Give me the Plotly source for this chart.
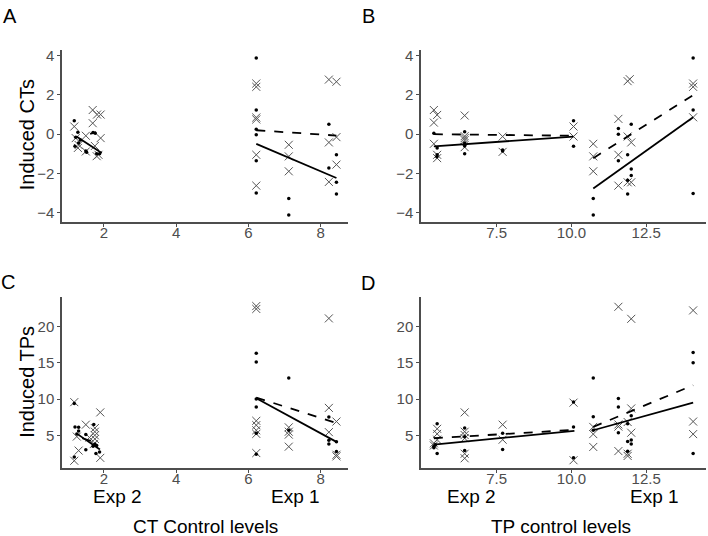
import plotly.graph_objects as go

# ---- panel A : induced CTs vs CT control levels ----
a_dot_x = [1.18, 1.2, 1.28, 1.3, 1.22, 1.5, 1.52, 1.7, 1.76, 1.8, 1.88, 1.35,
           6.22, 6.22, 6.22, 6.22, 6.22, 6.22, 7.12, 7.12, 8.23, 8.23, 8.44, 8.44, 8.44]
a_dot_y = [0.69, -0.62, 0.1, -0.45, -0.15, -0.85, -0.92, 0.08, 0.05, -1.0, -1.0, -0.3,
           3.88, 1.23, 0.25, -0.03, -1.35, -2.99, -3.27, -4.12, 0.5, -1.72, -1.05, -2.45, -3.04]
a_cross_x = [1.18, 1.22, 1.28, 1.3, 1.5, 1.5, 1.69, 1.69, 1.81, 1.91, 1.91, 1.8, 1.75, 1.85,
             6.22, 6.22, 6.22, 6.22, 6.22, 6.22, 7.12, 7.12, 7.12, 8.23, 8.23, 8.23, 8.44, 8.44, 8.44]
a_cross_y = [0.39, -0.2, -0.7, -0.55, -0.88, -0.08, 1.23, 0.56, 1.0, 1.0, -0.2, -1.12, -0.6, -1.05,
             2.58, 2.41, 0.85, 0.75, -1.05, -2.62, -0.54, -1.13, -1.89, 2.78, -0.42, -2.43, 2.67, -0.15, -1.55]
a_fits = [
    ([1.24, 1.94], [-0.12, -0.96], "solid"),
    ([1.62, 1.78], [0.02, 0.1], "dash"),
    ([6.22, 8.44], [-0.49, -2.23], "solid"),
    ([6.22, 8.44], [0.2, -0.07], "dash"),
]

# ---- panel B : induced CTs vs TP control levels ----
b_dot_x = [5.4, 5.51, 5.51, 5.5, 6.43, 6.43, 6.43, 6.43, 7.7, 7.7, 10.07, 10.07,
           10.73, 10.73, 11.57, 11.57, 11.57, 11.88, 11.88, 11.88, 12.0, 12.0, 12.0, 14.07, 14.07, 14.07]
b_dot_y = [0.05, -1.05, -0.7, -1.15, 0.13, -1.0, -0.45, -0.6, -0.8, -0.85, 0.69, -0.62,
           -3.27, -4.12, 0.29, 0.0, -1.35, -1.05, -2.35, -3.04, 0.5, -1.77, -2.11, 3.88, 1.23, -3.02]
b_cross_x = [5.4, 5.4, 5.4, 5.51, 5.51, 5.51, 6.43, 6.43, 6.43, 6.43, 6.43, 7.7, 7.7, 10.07, 10.07,
             10.73, 10.73, 10.73, 11.57, 11.57, 11.57, 11.88, 11.95, 11.88, 11.88, 12.0, 12.0, 14.07, 14.07, 14.07]
b_cross_y = [1.23, 0.59, -0.49, 0.98, -1.05, -1.22, 0.95, -0.1, -0.2, -0.3, -0.66, -0.12, -0.9, 0.39, -0.12,
             -0.49, -1.13, -1.89, 0.78, -1.05, -2.62, 2.7, 2.8, -0.12, -2.45, -0.42, -2.45, 2.58, 2.41, 0.86]
b_fits = [
    ([5.4, 10.07], [-0.62, -0.12], "solid"),
    ([5.4, 10.07], [0.0, -0.08], "dash"),
    ([10.73, 14.07], [-2.77, 0.86], "solid"),
    ([10.73, 14.07], [-1.22, 1.99], "dash"),
]

# ---- panel C : induced TPs vs CT control levels ----
c_dot_x = [1.18, 1.2, 1.3, 1.25, 1.18, 1.5, 1.5, 1.72, 1.75, 1.7, 1.8, 1.88, 1.78, 1.3,
           6.22, 6.22, 6.22, 6.22, 6.22, 6.22, 7.12, 7.12, 8.23, 8.23, 8.23, 8.44, 8.44]
c_dot_y = [9.4, 6.16, 6.1, 5.2, 2.02, 5.1, 3.0, 6.5, 3.8, 3.5, 3.6, 2.7, 2.5, 5.6,
           16.3, 15.1, 10.0, 8.9, 5.3, 2.4, 12.9, 5.7, 7.53, 4.33, 3.8, 4.1, 2.78]
c_cross_x = [1.18, 1.25, 1.3, 1.18, 1.5, 1.9, 1.75, 1.75, 1.75, 1.75, 1.72, 1.9, 1.6,
             6.22, 6.22, 6.22, 6.22, 6.22, 6.22, 6.22, 7.12, 7.12, 7.12, 7.12, 8.23, 8.23, 8.23, 8.44, 8.44, 8.44]
c_cross_y = [9.57, 4.83, 2.9, 1.5, 6.47, 8.16, 6.0, 5.5, 5.0, 4.5, 3.8, 1.9, 4.7,
             22.8, 22.4, 7.0, 6.4, 5.7, 5.2, 2.56, 6.1, 5.5, 5.1, 3.44, 21.1, 8.78, 5.44, 6.9, 2.33, 2.1]
c_fits = [
    ([1.24, 1.89], [5.27, 3.05], "solid"),
    ([1.4, 1.8], [4.6, 4.0], "dash"),
    ([6.22, 8.44], [10.1, 4.1], "solid"),
    ([6.22, 8.44], [10.2, 6.7], "dash"),
]

# ---- panel D : induced TPs vs TP control levels ----
d_dot_x = [5.4, 5.4, 5.45, 5.51, 5.51, 6.43, 6.43, 6.43, 7.7, 7.7, 10.07, 10.07, 10.07,
           10.73, 10.73, 10.73, 11.57, 11.57, 11.57, 11.88, 11.88, 11.88, 12.0, 12.0, 12.0, 14.07, 14.07, 14.07]
d_dot_y = [3.5, 3.3, 3.7, 6.6, 2.5, 6.0, 4.8, 2.9, 5.27, 3.05, 6.16, 1.9, 9.6,
           12.9, 7.57, 5.7, 10.07, 8.9, 5.36, 6.6, 4.16, 2.8, 7.7, 4.37, 3.8, 16.4, 15.0, 2.5]
d_cross_x = [5.4, 5.4, 5.51, 5.51, 5.51, 6.43, 6.43, 6.43, 6.43, 6.43, 6.43, 7.7, 7.7, 10.07, 10.07,
             10.73, 10.73, 10.73, 11.57, 11.57, 11.57, 11.57, 11.88, 11.88, 11.88, 12.0, 12.0, 12.0, 14.07, 14.07, 14.07]
d_cross_y = [3.9, 3.6, 5.9, 5.2, 4.4, 8.16, 5.5, 5.04, 4.6, 2.47, 1.84, 6.47, 4.4, 9.5, 1.57,
             6.16, 5.17, 3.4, 22.7, 6.5, 6.2, 2.83, 6.83, 2.47, 2.16, 21.04, 8.7, 5.36, 22.2, 6.9, 5.17]
d_fits = [
    ([5.4, 10.1], [3.71, 5.62], "solid"),
    ([5.4, 10.07], [4.6, 5.75], "dash"),
    ([10.73, 14.07], [5.7, 9.5], "solid"),
    ([10.73, 14.07], [6.16, 11.9], "dash"),
]

ct_ticks = [2, 4, 6, 8]
tp_ticks = [7.5, 10.0, 12.5]
tp_ticktext = ["7.5", "10.0", "12.5"]
cts_ticks = [-4, -2, 0, 2, 4]
tps_ticks = [5, 10, 15, 20]

W, H = 708, 536
FONT = "Liberation Sans, Arial, sans-serif"
AXIS_COLOR = "#4d4d4d"
CROSS_COLOR = "#555555"

panels = [
    (a_dot_x, a_dot_y, a_cross_x, a_cross_y, a_fits, "x", "y"),
    (b_dot_x, b_dot_y, b_cross_x, b_cross_y, b_fits, "x2", "y2"),
    (c_dot_x, c_dot_y, c_cross_x, c_cross_y, c_fits, "x3", "y3"),
    (d_dot_x, d_dot_y, d_cross_x, d_cross_y, d_fits, "x4", "y4"),
]

fig = go.Figure()
for dx, dy, cx, cy, fits, xa, ya in panels:
    fig.add_trace(go.Scatter(
        x=cx, y=cy, mode="markers", xaxis=xa, yaxis=ya, showlegend=False, cliponaxis=False,
        marker={"symbol": "x-thin-open", "size": 8, "color": CROSS_COLOR,
                "line": {"width": 1, "color": CROSS_COLOR}},
    ))
    fig.add_trace(go.Scatter(
        x=dx, y=dy, mode="markers", xaxis=xa, yaxis=ya, showlegend=False, cliponaxis=False,
        marker={"symbol": "circle", "size": 3.5, "color": "black"},
    ))
    for fx, fy, dash in fits:
        fig.add_trace(go.Scatter(
            x=fx, y=fy, mode="lines", xaxis=xa, yaxis=ya, showlegend=False,
            line={"color": "black", "width": 1.8, "dash": "dash" if dash == "dash" else "solid"},
        ))


def px(v):
    return v / W


def py(v):
    return 1 - v / H


left_dom = [px(62), px(348)]
right_dom = [px(421), px(706)]
top_dom = [py(220), py(47)]
bot_dom = [py(468), py(296)]

axis_common = {
    "showline": True, "linecolor": AXIS_COLOR, "linewidth": 1.5, "showgrid": False,
    "zeroline": False, "ticks": "outside", "ticklen": 3, "tickcolor": AXIS_COLOR,
    "tickfont": {"size": 15, "color": AXIS_COLOR, "family": FONT},
}
x_common = {**axis_common, "ticklabelstandoff": -7}

fig.update_layout(
    width=W, height=H, margin={"l": 0, "r": 0, "t": 0, "b": 0},
    plot_bgcolor="white", paper_bgcolor="white",
    font={"family": FONT, "color": "black"},
    xaxis={**x_common, "domain": left_dom, "range": [0.84, 8.76], "tickvals": ct_ticks, "anchor": "y"},
    yaxis={**axis_common, "domain": top_dom, "range": [-4.46, 4.3], "tickvals": cts_ticks, "anchor": "x"},
    xaxis2={**x_common, "domain": right_dom, "range": [4.97, 14.5], "tickvals": tp_ticks,
            "ticktext": tp_ticktext, "anchor": "y2"},
    yaxis2={**axis_common, "domain": top_dom, "range": [-4.46, 4.3], "tickvals": cts_ticks, "anchor": "x2"},
    xaxis3={**x_common, "domain": left_dom, "range": [0.84, 8.76], "tickvals": ct_ticks, "anchor": "y3"},
    yaxis3={**axis_common, "domain": bot_dom, "range": [0.45, 24.0], "tickvals": tps_ticks, "anchor": "x3"},
    xaxis4={**x_common, "domain": right_dom, "range": [4.97, 14.5], "tickvals": tp_ticks,
            "ticktext": tp_ticktext, "anchor": "y4"},
    yaxis4={**axis_common, "domain": bot_dom, "range": [0.45, 24.0], "tickvals": tps_ticks, "anchor": "x4"},
)


def note(text, x, y, size, angle=0):
    fig.add_annotation(text=text, x=px(x), y=py(y), xref="paper", yref="paper",
                       xanchor="center", yanchor="middle", showarrow=False, textangle=angle,
                       font={"size": size, "family": FONT, "color": "black"})


note("A", 10, 13, 20)
note("B", 368, 13, 20)
note("C", 8, 281, 20)
note("D", 368, 282, 20)
note("Induced CTs", 27, 133, 20, -90)
note("Induced TPs", 27, 381, 20, -90)
note("Exp 2", 117, 496, 19)
note("Exp 1", 295, 496, 19)
note("Exp 2", 471, 496, 19)
note("Exp 1", 654, 496, 19)
note("CT Control levels", 205, 526, 19)
note("TP control levels", 561, 526, 19)

# the page's default 8px body margin would shift and clip the fixed-size figure
fig.write_html("out.html", config={"displayModeBar": False},
               post_script="document.body.style.margin = '0px';")
